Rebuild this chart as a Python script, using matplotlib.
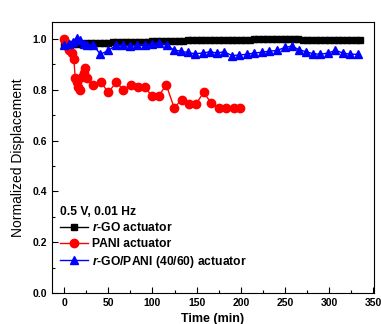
import matplotlib.pyplot as plt
from matplotlib.ticker import MultipleLocator

plt.rcParams['font.family'] = ['Liberation Sans', 'DejaVu Sans']
plt.rcParams['font.weight'] = 'bold'
plt.rcParams['mathtext.fontset'] = 'custom'
plt.rcParams['mathtext.it'] = 'Liberation Sans:italic:bold'

# r-GO actuator (every 5 min)
rgo_t = list(range(0, 340, 5))
rgo_y = [0.975, 0.978, 0.980, 0.980, 0.982, 0.983, 0.984, 0.984, 0.985, 0.985,
         0.986, 0.987, 0.987, 0.988, 0.988, 0.989, 0.989, 0.990, 0.990, 0.990,
         0.991, 0.991, 0.992, 0.992, 0.993, 0.993, 0.994, 0.994, 0.995, 0.995,
         0.995, 0.996, 0.996, 0.996, 0.997, 0.997, 0.997, 0.997, 0.998, 0.998,
         0.998, 0.998, 0.998, 0.999, 0.999, 0.999, 0.999, 0.999, 0.999, 0.999,
         0.999, 0.999, 0.999, 0.999, 0.998, 0.998, 0.998, 0.998, 0.998, 0.998,
         0.998, 0.997, 0.997, 0.997, 0.997, 0.997, 0.996, 0.996]

# PANI actuator
pani_t = [0, 2, 4, 6, 9, 11, 12.5, 14, 16, 18, 20, 22, 24, 25.5, 33, 41.5, 50, 59,
          67, 75.5, 84, 92, 99, 107, 115.5, 124.5, 133, 141, 149.5, 158, 166, 175,
          183, 192, 199.5]
pani_y = [1.0, 0.985, 0.97, 0.955, 0.945, 0.92, 0.845, 0.83, 0.81, 0.80, 0.85, 0.865,
          0.885, 0.845, 0.82, 0.83, 0.79, 0.83, 0.80, 0.82, 0.81, 0.81, 0.775, 0.775,
          0.82, 0.73, 0.76, 0.745, 0.745, 0.79, 0.75, 0.73, 0.73, 0.73, 0.73]

# r-GO/PANI (40/60) actuator
comp_t = [0, 5, 10, 14, 18, 22, 26, 33, 41, 50, 59, 67, 75, 83, 91, 99, 107, 116,
          124, 132, 140, 148, 157, 165, 173, 181, 190, 198, 207, 215, 224, 232,
          241, 250, 258, 266, 274, 282, 290, 299, 307, 316, 324, 333]
comp_y = [0.976, 0.98, 0.99, 1.005, 0.995, 0.98, 0.978, 0.976, 0.94, 0.955, 0.976,
          0.975, 0.972, 0.976, 0.978, 0.98, 0.985, 0.978, 0.957, 0.952, 0.947, 0.942,
          0.945, 0.95, 0.945, 0.95, 0.935, 0.937, 0.94, 0.945, 0.948, 0.952, 0.955,
          0.967, 0.972, 0.958, 0.95, 0.942, 0.94, 0.945, 0.955, 0.945, 0.94, 0.94]

fig = plt.figure(figsize=(3.81, 3.24), dpi=100)
ax = fig.add_axes([0.136, 0.096, 0.846, 0.836])

ax.plot(rgo_t, rgo_y, '-s', color='black', ms=5, lw=1, label=r'$\it{r}$-GO actuator')
ax.plot(pani_t, pani_y, '-o', color='red', ms=6, lw=1, label='PANI actuator')
ax.plot(comp_t, comp_y, '-^', color='blue', ms=6, lw=1,
        label=r'$\it{r}$-GO/PANI (40/60) actuator')

ax.set_xlim(-14, 351)
ax.set_ylim(0, 1.067)
ax.xaxis.set_major_locator(MultipleLocator(50))
ax.xaxis.set_minor_locator(MultipleLocator(25))
ax.yaxis.set_major_locator(MultipleLocator(0.2))
ax.yaxis.set_minor_locator(MultipleLocator(0.1))
ax.tick_params(direction='in', labelsize=7.5, length=4, width=0.8)
ax.tick_params(which='minor', direction='in', length=2, width=0.8)
for s in ax.spines.values():
    s.set_linewidth(0.8)

ax.set_xlabel('Time (min)', fontsize=9, fontweight='bold', labelpad=4)
ax.set_ylabel('Normalized Displacement', fontsize=10, fontweight='normal', labelpad=5)

leg = ax.legend(loc='lower left', bbox_to_anchor=(0.0, 0.055), frameon=False,
                fontsize=8.7, title='0.5 V, 0.01 Hz', handlelength=2.3,
                handletextpad=0.3, labelspacing=0.3, borderaxespad=0.3)
leg.get_title().set_fontweight('bold')
leg.get_title().set_fontsize(8.7)
leg._legend_box.align = 'left'

fig.savefig('out.png', dpi=100)
